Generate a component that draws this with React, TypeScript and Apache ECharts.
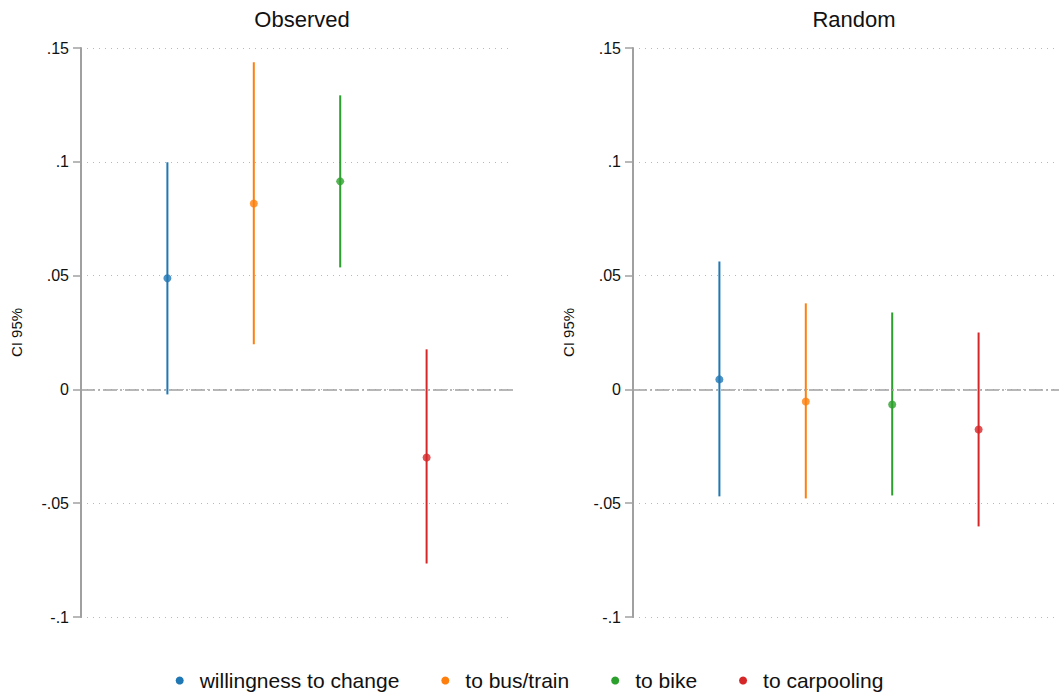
import React, { useEffect, useRef } from "react";
import * as echarts from "echarts";

const categories = ["willingness to change", "to bus/train", "to bike", "to carpooling"];
const colors = ["#1f77b4", "#ff7f0e", "#2ca02c", "#d62728"];
const panels = ["Observed", "Random"];

// point estimates and 95% CI bounds, per panel
const obsEst = [0.0488, 0.0817, 0.0914, -0.0299];
const obsLo = [-0.0022, 0.0198, 0.0536, -0.0765];
const obsHi = [0.0998, 0.1437, 0.1292, 0.0176];

const rndEst = [0.0044, -0.0053, -0.0066, -0.0176];
const rndLo = [-0.047, -0.0479, -0.0466, -0.0602];
const rndHi = [0.0562, 0.0378, 0.0338, 0.025];

const xPos = [1, 2, 3, 4];
const yTicks = [-0.1, -0.05, 0, 0.05, 0.1, 0.15];

const FONT = "'Liberation Sans', Arial, Helvetica, sans-serif";

function fmt(v: number): string {
  const s = (Math.round(v * 1000) / 1000).toString();
  return s.replace(/^(-?)0\./, "$1.");
}

export default function App() {
  const ref = useRef<HTMLDivElement>(null);
  useEffect(() => {
    document.body.style.margin = "0";
    if (!ref.current) return;
    const chart = echarts.init(ref.current, null, { renderer: "svg" });
    const gridLefts = [81, 633];
    const ests = [obsEst, rndEst];
    const los = [obsLo, rndLo];
    const his = [obsHi, rndHi];

    const series: any[] = [];
    for (let p = 0; p < 2; p++) {
      series.push({
        type: "line",
        name: "zero" + p,
        xAxisIndex: p,
        yAxisIndex: p,
        data: [],
        silent: true,
        z: 1,
        markLine: {
          symbol: "none",
          silent: true,
          label: { show: false },
          lineStyle: { color: "#a0a0a0", width: 1.5, type: [14, 3, 2, 3] },
          data: [{ yAxis: 0 }],
        },
      });
      for (let i = 0; i < categories.length; i++) {
        series.push({
          type: "line",
          name: categories[i],
          xAxisIndex: p,
          yAxisIndex: p,
          data: [
            [xPos[i], los[p][i]],
            [xPos[i], his[p][i]],
          ],
          showSymbol: false,
          symbol: "none",
          lineStyle: { color: colors[i], width: 2 },
          itemStyle: { color: colors[i] },
          z: 3,
        });
        series.push({
          type: "scatter",
          name: categories[i],
          xAxisIndex: p,
          yAxisIndex: p,
          data: [[xPos[i], ests[p][i]]],
          symbol: "circle",
          symbolSize: 8,
          itemStyle: { color: colors[i] },
          z: 4,
        });
      }
    }

    const option: any = {
      animation: false,
      backgroundColor: "#ffffff",
      textStyle: { fontFamily: FONT },
      title: panels.map((t, p) => ({
        text: t,
        left: gridLefts[p] + 216,
        top: 3,
        textAlign: "center",
        textStyle: { fontFamily: FONT, fontSize: 22, fontWeight: "normal", color: "#111" },
      })),
      legend: {
        left: "center",
        bottom: -3,
        itemWidth: 8,
        itemHeight: 8,
        itemGap: 42,
        icon: "circle",
        data: categories.map((c, i) => ({ name: c, itemStyle: { color: colors[i] } })),
        textStyle: { fontFamily: FONT, fontSize: 21, color: "#111", padding: [0, 0, 0, 11] },
      },
      grid: gridLefts.map((l) => ({
        left: l,
        top: 48,
        width: 432,
        height: 569,
        outerBoundsMode: "none",
        containLabel: false,
      })),
      xAxis: gridLefts.map((_, p) => ({
        type: "value",
        gridIndex: p,
        min: 0,
        max: 5,
        show: false,
      })),
      yAxis: gridLefts.map((_, p) => ({
        type: "value",
        gridIndex: p,
        min: yTicks[0],
        max: yTicks[yTicks.length - 1],
        interval: 0.05,
        name: "CI 95%",
        nameLocation: "middle",
        nameRotate: 90,
        nameGap: 57,
        nameTextStyle: { fontFamily: FONT, fontSize: 15, color: "#111" },
        axisLine: { show: true, lineStyle: { color: "#a0a0a0", width: 2 } },
        axisTick: { show: true, length: 8, lineStyle: { color: "#a0a0a0", width: 1.5 } },
        axisLabel: {
          fontFamily: FONT,
          fontSize: 16,
          color: "#111",
          margin: 12,
          formatter: (v: number) => fmt(v),
        },
        splitLine: {
          show: true,
          lineStyle: { color: "#b8b8b8", width: 1, type: [1, 5] },
        },
      })),
      series,
    };
    chart.setOption(option);
    return () => chart.dispose();
  }, []);
  return <div ref={ref} style={{ width: 1059, height: 693 }} />;
}
